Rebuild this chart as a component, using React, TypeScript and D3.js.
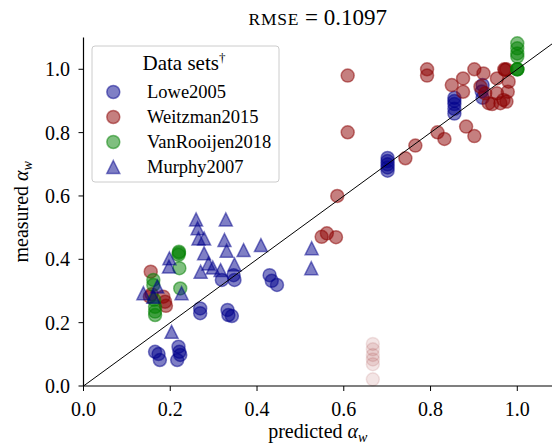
import React from 'react';
import * as d3 from 'd3';

// [predicted, measured]
const lowe2005: [number, number][] = [
  [0.319, 0.335], [0.348, 0.335], [0.346, 0.35], [0.429, 0.35], [0.434, 0.332], [0.446, 0.319],
  [0.269, 0.245], [0.269, 0.23], [0.332, 0.24], [0.334, 0.224], [0.342, 0.221],
  [0.165, 0.108], [0.173, 0.101], [0.176, 0.082], [0.219, 0.124], [0.221, 0.108], [0.223, 0.098], [0.216, 0.082],
  [0.701, 0.68], [0.701, 0.69], [0.701, 0.70], [0.701, 0.71], [0.701, 0.72],
  [0.855, 0.86], [0.855, 0.875], [0.855, 0.89], [0.855, 0.90], [0.855, 0.91],
  [0.92, 0.91], [0.918, 0.93], [0.92, 0.95],
];

const weitzman2015: [number, number][] = [
  [0.155, 0.361], [0.153, 0.282], [0.157, 0.29], [0.184, 0.282], [0.188, 0.266], [0.19, 0.253],
  [0.549, 0.471], [0.561, 0.482], [0.582, 0.47], [0.585, 0.60],
  [0.609, 0.98], [0.609, 0.801], [0.742, 0.719], [0.765, 0.759], [0.816, 0.801], [0.832, 0.78],
  [0.882, 0.819], [0.901, 0.789], [0.792, 1.0], [0.792, 0.98], [0.849, 0.95], [0.875, 0.971],
  [0.875, 0.929], [0.901, 1.0], [0.922, 0.987], [0.915, 0.945], [0.926, 0.924], [0.934, 0.893],
  [0.942, 0.89], [0.961, 0.893], [0.953, 0.971], [0.972, 0.998], [0.975, 1.0], [0.97, 1.0],
  [0.98, 0.961], [0.978, 0.929], [0.953, 0.924], [0.968, 0.903], [0.975, 0.898],
];

const weitzman2015Excluded: [number, number][] = [
  [0.667, 0.133], [0.667, 0.116], [0.667, 0.098], [0.667, 0.084], [0.667, 0.069], [0.667, 0.021],
];

const vanRooijen2018: [number, number][] = [
  [0.22, 0.424], [0.22, 0.42], [0.219, 0.414], [0.221, 0.372], [0.223, 0.308],
  [0.161, 0.335], [0.161, 0.319], [0.163, 0.272], [0.165, 0.25], [0.165, 0.235], [0.165, 0.224],
  [1.0, 1.082], [1.0, 1.066], [1.0, 1.05], [1.0, 1.04], [1.0, 1.0], [1.0, 1.0], [1.0, 1.0],
];

const murphy2007: [number, number][] = [
  [0.2595, 0.526], [0.328, 0.526], [0.263, 0.498], [0.265, 0.466], [0.278, 0.466], [0.325, 0.461],
  [0.33, 0.427], [0.369, 0.429], [0.409, 0.445], [0.278, 0.419], [0.198, 0.403], [0.197, 0.377],
  [0.288, 0.387], [0.298, 0.374], [0.27, 0.361], [0.316, 0.366], [0.348, 0.384],
  [0.138, 0.293], [0.17, 0.314], [0.161, 0.282], [0.226, 0.293], [0.203, 0.171],
  [0.526, 0.435], [0.525, 0.372],
];

const xTicks = [0, 0.2, 0.4, 0.6, 0.8, 1.0];
const yTicks = [0, 0.2, 0.4, 0.6, 0.8, 1.0];
const legendLabels = ['Lowe2005', 'Weitzman2015', 'VanRooijen2018', 'Murphy2007'];

const W = 552, H = 446;
const FONT = '"Liberation Serif", "DejaVu Serif", serif';

const x = d3.scaleLinear().domain([0, 1.08]).range([83.5, 552]);
const y = d3.scaleLinear().domain([0, 1.1]).range([386, 37.6]);

const R = 6.5;
const tri = (s: number) => `M0,${-s}L${s},${s}L${-s},${s}Z`;

const Circle = ({ cx, cy, color, op }: { cx: number; cy: number; color: string; op: number }) => (
  <circle cx={cx} cy={cy} r={R} fill={color} fillOpacity={op} stroke={color} strokeOpacity={op} strokeWidth={1.5} />
);

export default function App() {
  const diag = d3.line<number>().x((d) => x(d)).y((d) => y(d))([0, 1.08]) as string;
  const legendSeries = [
    { label: legendLabels[0], color: '#00008b', shape: 'o' },
    { label: legendLabels[1], color: '#8b0000', shape: 'o' },
    { label: legendLabels[2], color: '#008000', shape: 'o' },
    { label: legendLabels[3], color: '#00008b', shape: '^' },
  ];
  return (
    <svg width={W} height={H} style={{ position: 'absolute', left: 0, top: 0, background: '#fff' }} fontFamily={FONT}>
      <rect width={W} height={H} fill="#fff" />
      {/* scatter */}
      {weitzman2015Excluded.map((d, i) => (
        <Circle key={'wx' + i} cx={x(d[0])} cy={y(d[1])} color="#8b0000" op={0.1} />
      ))}
      {lowe2005.map((d, i) => (
        <Circle key={'l' + i} cx={x(d[0])} cy={y(d[1])} color="#00008b" op={0.5} />
      ))}
      {weitzman2015.map((d, i) => (
        <Circle key={'w' + i} cx={x(d[0])} cy={y(d[1])} color="#8b0000" op={0.5} />
      ))}
      {vanRooijen2018.map((d, i) => (
        <Circle key={'v' + i} cx={x(d[0])} cy={y(d[1])} color="#008000" op={0.5} />
      ))}
      {murphy2007.map((d, i) => (
        <path key={'m' + i} d={tri(R)} transform={`translate(${x(d[0])},${y(d[1])})`} fill="#00008b" fillOpacity={0.5}
          stroke="#00008b" strokeOpacity={0.5} strokeWidth={1.5} strokeLinejoin="miter" />
      ))}
      <path d={diag} stroke="#000" strokeWidth={1} fill="none" />

      {/* axes */}
      <line x1={x(0)} x2={W} y1={y(0)} y2={y(0)} stroke="#000" strokeWidth={1.2} />
      <line x1={x(0)} x2={x(0)} y1={y(0)} y2={y(1.1)} stroke="#000" strokeWidth={1.2} />
      {xTicks.map((t) => (
        <g key={'xt' + t}>
          <line x1={x(t)} x2={x(t)} y1={y(0)} y2={y(0) + 5} stroke="#000" strokeWidth={1} />
          <text x={x(t)} y={416} textAnchor="middle" fontSize={20}>{t.toFixed(1)}</text>
        </g>
      ))}
      {yTicks.map((t) => (
        <g key={'yt' + t}>
          <line x1={x(0) - 5} x2={x(0)} y1={y(t)} y2={y(t)} stroke="#000" strokeWidth={1} />
          <text x={70} y={y(t)} dy="0.35em" textAnchor="end" fontSize={20}>{t.toFixed(1)}</text>
        </g>
      ))}

      {/* labels */}
      <text x={(x(0) + W) / 2} y={438} textAnchor="middle" fontSize={20}>
        predicted <tspan fontStyle="italic">α</tspan>
        <tspan fontStyle="italic" fontSize={14} dy={4}>w</tspan>
      </text>
      <text transform={`translate(28,${(y(0) + y(1.1)) / 2}) rotate(-90)`} textAnchor="middle" fontSize={20}>
        measured <tspan fontStyle="italic">α</tspan>
        <tspan fontStyle="italic" fontSize={14} dy={4}>w</tspan>
      </text>
      <text x={(x(0) + W) / 2} y={25} textAnchor="middle" fontSize={23}>
        <tspan fontSize={17.5} letterSpacing={0.8}>RMSE</tspan> = 0.1097
      </text>

      {/* legend */}
      <g>
        <rect x={92} y={46} width={187} height={136} rx={3} fill="#fff" fillOpacity={0.8} stroke="#cccccc" strokeWidth={1} />
        <text x={184} y={70} textAnchor="middle" fontSize={21}>
          Data sets<tspan fontSize={13} dy={-8}>†</tspan>
        </text>
        {legendSeries.map((s, i) => {
          const cy = 92 + i * 25;
          return (
            <g key={s.label}>
              {s.shape === 'o' ? (
                <Circle cx={113.3} cy={cy} color={s.color} op={0.5} />
              ) : (
                <path d={tri(R)} transform={`translate(113.3,${cy})`} fill={s.color} fillOpacity={0.5}
                  stroke={s.color} strokeOpacity={0.5} strokeWidth={1.5} />
              )}
              <text x={147} y={cy + 5.5} fontSize={18.5}>{s.label}</text>
            </g>
          );
        })}
      </g>
    </svg>
  );
}
